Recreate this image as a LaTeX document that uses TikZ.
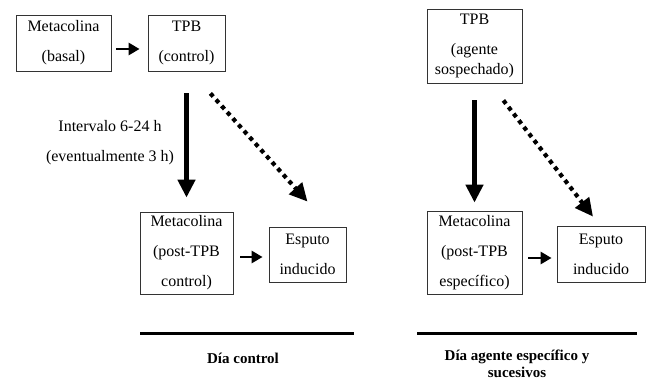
\documentclass[tikz,border=0pt]{standalone}
\usepackage{fontspec}
\setmainfont{Liberation Serif}
\usetikzlibrary{arrows.meta,calc}
\tikzset{
  box/.style={draw=black!80, line width=0.8pt, fill=white, inner sep=0pt,
    align=center, font=\fontsize{16}{30}\selectfont,
    execute at begin node={\rule{0pt}{16pt}}},
  tallbox/.style={box, execute at begin node={\rule{0pt}{21pt}}},
  mainarrow/.style={line width=5pt, -{Triangle[width=17pt,length=18pt]}},
  dotarrow/.style={line width=4.2pt, dash pattern=on 4.2pt off 4.2pt,
    -{Triangle[width=17pt,length=18pt]}},
  smallarrow/.style={line width=2.8pt, -{Triangle[width=12pt,length=11pt]}},
  label/.style={font=\fontsize{16}{30}\selectfont, align=center},
  daylabel/.style={font=\bfseries\fontsize{15}{17}\selectfont, align=center},
  dayline/.style={line width=3pt}
}
\begin{document}
\begin{tikzpicture}[x=1pt,y=-1pt]
\useasboundingbox (0,0) rectangle (651,387);

% control day
\node[box, minimum width=95pt, minimum height=56pt] (mb) at (63.5,43)
  {Metacolina\\(basal)};
\node[box, minimum width=77pt, minimum height=56pt] (tc) at (186.5,43)
  {TPB\\(control)};
\node[tallbox, minimum width=93pt, minimum height=82pt] (mp) at (186.5,253)
  {Metacolina\\(post-TPB\\control)};
\node[box, minimum width=77pt, minimum height=55pt] (ec) at (307.5,254.5)
  {Esputo\\inducido};
\node[label] (iv) at (110,143) {Intervalo 6-24 h\\(eventualmente 3 h)};

\draw[smallarrow, shorten <=5pt, shorten >=8pt]
  ([yshift=-6pt]mb.east) -- ([yshift=-6pt]tc.west);
\draw[mainarrow, shorten <=22pt, shorten >=14pt]
  (tc.south) -- (tc.south |- mp.north);
\draw[dotarrow] ([shift={(-15,22)}]tc.south east) -- ([shift={(0,-25)}]ec.north);
\draw[smallarrow, shorten <=7pt, shorten >=6pt]
  ([yshift=-4pt]mp.east) -- ([yshift=-4pt]mp.east -| ec.west);

% specific agent day
\node[tallbox, minimum width=95pt, minimum height=74pt] (ta) at (474.5,46)
  {TPB\\(agente\\[-10pt]sospechado)};
\node[tallbox, minimum width=95pt, minimum height=83pt] (me) at (474.5,252.5)
  {Metacolina\\(post-TPB\\específico)};
\node[box, minimum width=88pt, minimum height=56pt] (ee) at (601,254)
  {Esputo\\inducido};

\draw[mainarrow, shorten <=17pt, shorten >=8pt]
  (ta.south) -- (ta.south |- me.north);
\draw[dotarrow] ([shift={(-19,17)}]ta.south east) -- ([shift={(-8,-9)}]ee.north);
\draw[smallarrow, shorten <=6pt, shorten >=5pt]
  ([yshift=-5.5pt]me.east) -- ([yshift=-5.5pt]me.east -| ee.west);

% day separators and captions
\coordinate (l1a) at (140,334);
\coordinate (l1b) at (354,334);
\coordinate (l2a) at (417,334);
\coordinate (l2b) at (637,334);
\draw[dayline] (l1a) -- (l1b);
\draw[dayline] (l2a) -- (l2b);
\node[daylabel] (d1) at (243,358) {Día control};
\node[daylabel] (d2) at (517,364) {Día agente específico y\\sucesivos};
\end{tikzpicture}
\end{document}
